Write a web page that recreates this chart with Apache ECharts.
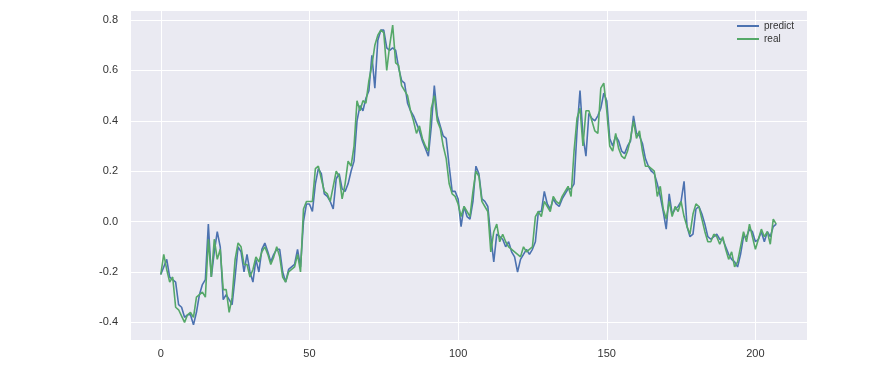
<!DOCTYPE html>
<html>
<head>
<meta charset="utf-8">
<script src="https://cdn.jsdelivr.net/npm/echarts@6/dist/echarts.min.js"></script>
<style>
  html, body { margin: 0; padding: 0; background: #fff; }
  #main { width: 885px; height: 377px; }
</style>
</head>
<body>
<div id="main"></div>
<script>
// values, index 0..207
const predict = [
  -0.21, -0.18, -0.15, -0.22, -0.23, -0.24, -0.33, -0.34, -0.38, -0.37,
  -0.37, -0.41, -0.36, -0.29, -0.25, -0.23, -0.01, -0.22, -0.12, -0.04,
  -0.10, -0.31, -0.29, -0.31, -0.33, -0.22, -0.10, -0.12, -0.20, -0.13,
  -0.20, -0.24, -0.15, -0.20, -0.11, -0.085, -0.12, -0.16, -0.13, -0.11,
  -0.11, -0.20, -0.24, -0.19, -0.18, -0.17, -0.11, -0.18, 0.00, 0.07,
  0.07, 0.04, 0.15, 0.21, 0.19, 0.11, 0.10, 0.08, 0.05, 0.17,
  0.19, 0.13, 0.12, 0.15, 0.20, 0.24, 0.40, 0.46, 0.44, 0.49,
  0.52, 0.66, 0.53, 0.72, 0.76, 0.76, 0.69, 0.68, 0.69, 0.68,
  0.61, 0.56, 0.55, 0.47, 0.44, 0.42, 0.39, 0.36, 0.32, 0.29,
  0.26, 0.38, 0.54, 0.42, 0.38, 0.34, 0.33, 0.22, 0.12, 0.12,
  0.09, -0.02, 0.06, 0.02, 0.01, 0.08, 0.22, 0.19, 0.09, 0.08,
  0.06, -0.06, -0.16, -0.05, -0.06, -0.07, -0.10, -0.08, -0.12, -0.14,
  -0.20, -0.15, -0.13, -0.11, -0.13, -0.11, -0.08, 0.04, 0.04, 0.12,
  0.07, 0.05, 0.09, 0.07, 0.06, 0.09, 0.11, 0.13, 0.13, 0.15,
  0.36, 0.52, 0.34, 0.26, 0.43, 0.41, 0.40, 0.42, 0.45, 0.51,
  0.48, 0.33, 0.30, 0.34, 0.32, 0.28, 0.27, 0.30, 0.32, 0.42,
  0.35, 0.34, 0.31, 0.25, 0.22, 0.20, 0.19, 0.15, 0.10, 0.04,
  -0.03, 0.11, 0.03, 0.05, 0.06, 0.08, 0.16, -0.02, -0.06, -0.05,
  0.05, 0.06, 0.03, -0.01, -0.06, -0.07, -0.06, -0.05, -0.07, -0.07,
  -0.10, -0.13, -0.15, -0.16, -0.18, -0.13, -0.06, -0.06, -0.03, -0.04,
  -0.08, -0.07, -0.04, -0.08, -0.04, -0.06, -0.02, -0.01
];
const real = [
  -0.21, -0.13, -0.19, -0.24, -0.22, -0.34, -0.35, -0.375, -0.40, -0.37,
  -0.36, -0.38, -0.30, -0.29, -0.28, -0.30, -0.07, -0.22, -0.07, -0.15,
  -0.11, -0.27, -0.27, -0.36, -0.30, -0.15, -0.085, -0.10, -0.17, -0.17,
  -0.22, -0.19, -0.14, -0.16, -0.12, -0.10, -0.13, -0.17, -0.14, -0.10,
  -0.14, -0.22, -0.24, -0.20, -0.19, -0.18, -0.13, -0.20, 0.05, 0.08,
  0.08, 0.08, 0.21, 0.22, 0.17, 0.12, 0.11, 0.08, 0.14, 0.20,
  0.18, 0.09, 0.15, 0.24, 0.22, 0.30, 0.48, 0.44, 0.48, 0.47,
  0.56, 0.62, 0.70, 0.74, 0.76, 0.75, 0.60, 0.70, 0.78, 0.63,
  0.62, 0.54, 0.52, 0.50, 0.44, 0.40, 0.35, 0.38, 0.33, 0.30,
  0.28, 0.45, 0.50, 0.40, 0.37, 0.30, 0.25, 0.15, 0.11, 0.10,
  0.07, 0.02, 0.06, 0.04, 0.02, 0.12, 0.20, 0.18, 0.08, 0.06,
  0.04, -0.12, -0.04, -0.01, -0.08, -0.05, -0.08, -0.10, -0.11, -0.12,
  -0.13, -0.14, -0.10, -0.12, -0.11, -0.10, 0.02, 0.04, 0.02, 0.08,
  0.06, 0.04, 0.10, 0.08, 0.07, 0.10, 0.12, 0.14, 0.10, 0.28,
  0.41, 0.45, 0.30, 0.44, 0.44, 0.40, 0.36, 0.35, 0.53, 0.55,
  0.44, 0.30, 0.28, 0.35, 0.29, 0.26, 0.25, 0.28, 0.33, 0.40,
  0.33, 0.36, 0.28, 0.22, 0.22, 0.21, 0.20, 0.10, 0.14, 0.05,
  0.01, 0.08, 0.02, 0.06, 0.04, 0.08, 0.02, -0.02, -0.05, 0.03,
  0.07, 0.06, 0.01, -0.04, -0.08, -0.08, -0.05, -0.06, -0.09, -0.06,
  -0.11, -0.15, -0.12, -0.18, -0.16, -0.10, -0.04, -0.08, -0.01, -0.06,
  -0.11, -0.07, -0.03, -0.06, -0.04, -0.09, 0.01, -0.01
];
const xTicks = [0, 50, 100, 150, 200];
const yTicks = [-0.4, -0.2, 0.0, 0.2, 0.4, 0.6, 0.8];

const toPoints = arr => arr.map((v, i) => [i, v]);
const near = (v, list) => list.some(t => Math.abs(t - v) < 1e-6);

var chart = echarts.init(document.getElementById('main'));
const labelStyle = { color: '#333', fontSize: 11, fontFamily: 'Liberation Sans, Arial, sans-serif' };

chart.setOption({
  animation: false,
  color: ['#4C72B0', '#55A868'],
  grid: {
    left: 130, right: 78, top: 10, bottom: 37,
    show: true,
    backgroundColor: '#EAEAF2',
    borderWidth: 0
  },
  legend: {
    orient: 'vertical',
    right: 86, top: 16,
    itemWidth: 22, itemHeight: 2, itemGap: 3,
    textStyle: { color: '#333', fontSize: 10, fontFamily: 'Liberation Sans, Arial, sans-serif' },
    data: ['predict', 'real']
  },
  xAxis: {
    type: 'value',
    min: -10.35, max: 217.35,
    splitNumber: 5,
    axisLine: { show: false },
    axisTick: { show: false },
    splitLine: { show: true, lineStyle: { color: '#fff', width: 1 } },
    axisLabel: Object.assign({
      margin: 8,
      showMinLabel: false, showMaxLabel: false,
      formatter: v => near(v, xTicks) ? String(Math.round(v)) : ''
    }, labelStyle)
  },
  yAxis: {
    type: 'value',
    min: -0.47, max: 0.84,
    splitNumber: 7,
    axisLine: { show: false },
    axisTick: { show: false },
    splitLine: { show: true, lineStyle: { color: '#fff', width: 1 } },
    axisLabel: Object.assign({
      margin: 12,
      showMinLabel: false, showMaxLabel: false,
      formatter: v => near(v, yTicks) ? v.toFixed(1) : ''
    }, labelStyle)
  },
  series: [
    {
      name: 'predict',
      type: 'line',
      symbol: 'none',
      lineStyle: { width: 1.6 },
      data: toPoints(predict)
    },
    {
      name: 'real',
      type: 'line',
      symbol: 'none',
      lineStyle: { width: 1.6 },
      data: toPoints(real)
    }
  ]
});
</script>
</body>
</html>
